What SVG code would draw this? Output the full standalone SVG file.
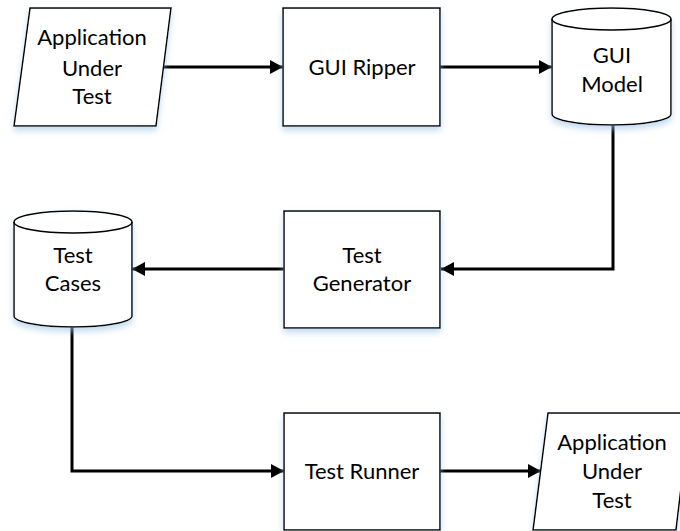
<svg xmlns="http://www.w3.org/2000/svg" width="680" height="531" viewBox="0 0 680 531">
<style>
.s{fill:#fff;stroke:#000;stroke-width:1.5;filter:url(#sh)}
.l{fill:none;stroke:#000;stroke-width:1.5}
.c{fill:none;stroke:#000;stroke-width:3;marker-end:url(#ah)}
text{font-family:Lato,"Liberation Sans",sans-serif;font-size:22px;text-anchor:middle;fill:#000}
</style>
<defs>
<marker id="ah" markerWidth="14" markerHeight="14" refX="13" refY="7" orient="auto" markerUnits="userSpaceOnUse">
<path d="M0,0 L13,7 L0,14 Z" fill="#000"/>
</marker>
<filter id="sh" x="-20%" y="-20%" width="140%" height="150%">
<feGaussianBlur in="SourceAlpha" stdDeviation="3"/>
<feOffset dy="4" result="b"/>
<feFlood flood-color="#9dc3e6" flood-opacity="0.6"/>
<feComposite in2="b" operator="in"/>
<feMerge><feMergeNode/><feMergeNode in="SourceGraphic"/></feMerge>
</filter>
</defs>
<g id="connectors">
<line class="c" x1="163" y1="67" x2="283" y2="67"/>
<line class="c" x1="440" y1="67" x2="552" y2="67"/>
<polyline class="c" points="613,125 613,269 441,269"/>
<line class="c" x1="284" y1="269" x2="132" y2="269"/>
<polyline class="c" points="72,327 72,471 284,471"/>
<line class="c" x1="440" y1="471" x2="541" y2="471"/>
</g>
<g id="aut1">
<polygon class="s" points="30,8 171,8 156,126 14,126"/>
<text x="92" y="45">Application</text>
<text x="92" y="76">Under</text>
<text x="92" y="104">Test</text>
</g>
<g id="ripper">
<rect class="s" x="283" y="8" width="157" height="118"/>
<text x="362" y="75">GUI Ripper</text>
</g>
<g id="model">
<path class="s" d="M552,19 A59.5,11 0 0 1 671,19 L671,114 A59.5,11 0 0 1 552,114 Z"/>
<path class="l" d="M552,19 A59.5,11 0 0 0 671,19"/>
<text x="612" y="63">GUI</text>
<text x="612" y="92">Model</text>
</g>
<g id="generator">
<rect class="s" x="284" y="211" width="156" height="117"/>
<text x="362" y="263">Test</text>
<text x="362" y="291">Generator</text>
</g>
<g id="cases">
<path class="s" d="M14,222 A59,11 0 0 1 132,222 L132,316 A59,11 0 0 1 14,316 Z"/>
<path class="l" d="M14,222 A59,11 0 0 0 132,222"/>
<text x="73" y="263">Test</text>
<text x="73" y="291">Cases</text>
</g>
<g id="runner">
<rect class="s" x="284" y="413" width="156" height="117"/>
<text x="362" y="479">Test Runner</text>
</g>
<g id="aut2">
<polygon class="s" points="548,413 690,413 676,530 533,530"/>
<text x="612" y="450">Application</text>
<text x="612" y="479">Under</text>
<text x="612" y="508">Test</text>
</g>
</svg>
